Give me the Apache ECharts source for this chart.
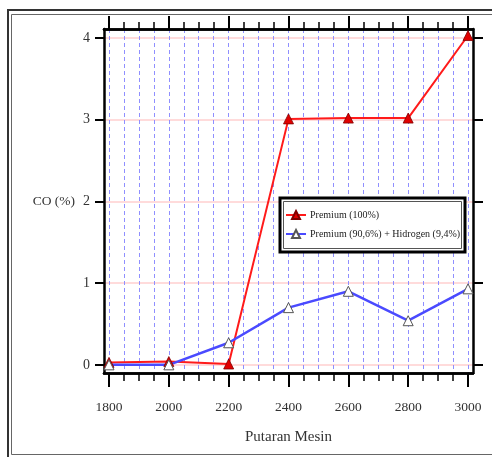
<!DOCTYPE html>
<html>
<head>
<meta charset="utf-8">
<script src="https://cdn.jsdelivr.net/npm/echarts@6/dist/echarts.min.js"></script>
<style>
html, body { margin: 0; padding: 0; background: #fff; }
#main { width: 492px; height: 457px; }
</style>
</head>
<body>
<div id="main"></div>
<script>
// data
var rpm = [1800, 2000, 2200, 2400, 2600, 2800, 3000];
var premium = [0.03, 0.04, 0.01, 3.01, 3.02, 3.02, 4.03];
var hidrogen = [0.0, 0.0, 0.27, 0.70, 0.90, 0.54, 0.93];
var seriesNames = ['Premium (100%)', 'Premium (90,6%) + Hidrogen (9,4%)'];

// ticks
var xMajor = [1800, 2000, 2200, 2400, 2600, 2800, 3000];
var xMinor = [];
for (var t = 1800; t <= 3000; t += 50) xMinor.push(t);
var yMajor = [0, 1, 2, 3, 4];

var FONT = 'Liberation Serif';
var xMin = 1783.3, xMax = 3016.7, yMin = -0.1, yMax = 4.11;

var myChart = echarts.init(document.getElementById('main'));

function plain(v) { return String(v); }

function xAx(pos, ticks, len, width, extra) {
    var a = {
        type: 'value', position: pos, min: xMin, max: xMax,
        axisLine: { show: true, onZero: false, lineStyle: { color: '#000', width: 2.5 } },
        axisTick: { show: true, customValues: ticks, length: len, lineStyle: { color: '#000', width: width } },
        axisLabel: { show: false },
        splitLine: { show: false }
    };
    return Object.assign(a, extra || {});
}

option = {
    backgroundColor: '#fff',
    animation: false,
    grid: { left: 104, top: 29, right: 19, bottom: 84 },
    legend: {
        data: seriesNames,
        orient: 'vertical',
        left: 285, top: 210,
        itemWidth: 20, itemHeight: 10, itemGap: 9,
        padding: 0, z: 40,
        textStyle: { fontFamily: FONT, fontSize: 10, color: '#222', padding: [0, 0, 0, -1] }
    },
    xAxis: [
        xAx('bottom', xMajor, 14, 2, {
            name: 'Putaran Mesin', nameLocation: 'middle', nameGap: 57,
            nameTextStyle: { fontFamily: FONT, fontSize: 15, color: '#333' },
            axisLabel: { show: true, customValues: xMajor, margin: 27, fontFamily: FONT, fontSize: 13.5, color: '#333', formatter: plain }
        }),
        xAx('bottom', xMinor, 8, 1.5, {
            splitLine: { show: true, lineStyle: { color: '#8f8fff', type: [4, 3], width: 1 } }
        }),
        xAx('top', xMajor, 13, 2),
        xAx('top', xMinor, 7, 1.5)
    ],
    yAxis: [
        {
            type: 'value', position: 'left', min: yMin, max: yMax,
            name: 'CO (%)', nameLocation: 'middle', nameRotate: 0, nameGap: 29,
            nameTextStyle: { fontFamily: FONT, fontSize: 13.5, color: '#333', align: 'right' },
            axisLine: { show: true, onZero: false, lineStyle: { color: '#000', width: 2.5 } },
            axisTick: { show: true, customValues: yMajor, length: 9, lineStyle: { color: '#000', width: 2 } },
            axisLabel: { show: true, customValues: yMajor, margin: 14, fontFamily: FONT, fontSize: 14, color: '#333', formatter: plain },
            splitLine: { show: true, lineStyle: { color: '#ffcfcf', width: 1.5 } }
        },
        {
            type: 'value', position: 'right', min: yMin, max: yMax,
            axisLine: { show: true, onZero: false, lineStyle: { color: '#000', width: 2.5 } },
            axisTick: { show: true, customValues: yMajor, length: 10, lineStyle: { color: '#000', width: 2 } },
            axisLabel: { show: false },
            splitLine: { show: false }
        }
    ],
    graphic: [
        { type: 'rect', shape: { x: 8, y: 10, width: 500, height: 449 }, style: { fill: null, stroke: '#333', lineWidth: 2 }, z: 100 },
        { type: 'rect', shape: { x: 11.5, y: 14.5, width: 500, height: 440 }, style: { fill: null, stroke: '#666', lineWidth: 1 }, z: 100 },
        { type: 'rect', shape: { x: 280, y: 198, width: 185, height: 54 }, style: { fill: '#fff', stroke: '#000', lineWidth: 3 }, z: 20 },
        { type: 'rect', shape: { x: 283.5, y: 201.5, width: 178, height: 47 }, style: { fill: null, stroke: '#555', lineWidth: 1 }, z: 20 }
    ],
    series: [
        {
            name: seriesNames[0], type: 'line', xAxisIndex: 0, yAxisIndex: 0,
            data: rpm.map(function (x, i) { return [x, premium[i]]; }),
            symbol: 'triangle', symbolSize: 10,
            lineStyle: { color: '#ff1a1a', width: 2 },
            itemStyle: { color: '#e00000', borderColor: '#800000', borderWidth: 0.8 }
        },
        {
            name: seriesNames[1], type: 'line', xAxisIndex: 0, yAxisIndex: 0,
            data: rpm.map(function (x, i) { return [x, hidrogen[i]]; }),
            symbol: 'triangle', symbolSize: 10,
            lineStyle: { color: '#4a4aff', width: 2.5 },
            itemStyle: { color: '#fff', borderColor: '#555', borderWidth: 1 }
        }
    ]
};

myChart.setOption(option);
</script>
</body>
</html>
